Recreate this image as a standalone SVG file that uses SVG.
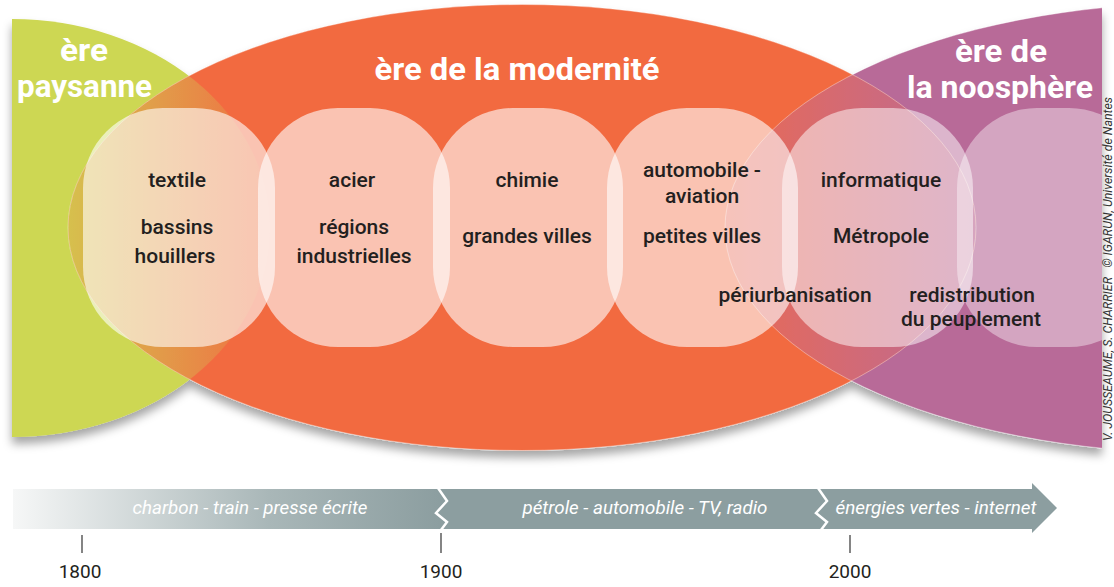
<svg xmlns="http://www.w3.org/2000/svg" width="1114" height="587" viewBox="0 0 1114 587">
<style>
.title{font-family:Roboto,"Liberation Sans",sans-serif;font-weight:700;font-size:32px;fill:#ffffff;text-anchor:middle}
.lbl{font-family:Roboto,"Liberation Sans",sans-serif;font-weight:500;font-size:21px;fill:#231f20;text-anchor:middle}
.band{font-family:Roboto,"Liberation Sans",sans-serif;font-style:italic;font-size:19px;fill:#ffffff;text-anchor:middle}
.year{font-family:Roboto,"Liberation Sans",sans-serif;font-size:19px;fill:#231f20;text-anchor:middle}
.box{fill:#ffffff}
.tick{stroke:#333333;stroke-width:1.2}
.zig{fill:none;stroke:#ffffff;stroke-width:2.5;stroke-linejoin:miter}
.rim{fill:none;stroke:#ffffff;stroke-opacity:0.45;stroke-width:0.8}
</style>
<defs>
<clipPath id="clipFrame"><rect x="12" y="0" width="1090" height="587"/></clipPath>
<clipPath id="clipGreen"><ellipse cx="12" cy="228" rx="258" ry="209"/></clipPath>
<clipPath id="clipPurple"><ellipse cx="1200" cy="228" rx="475" ry="225"/></clipPath>
<linearGradient id="gGO" gradientUnits="userSpaceOnUse" x1="68" y1="0" x2="270" y2="0">
<stop offset="0" stop-color="#d6c04e"/>
<stop offset="1" stop-color="#f06e42"/>
</linearGradient>
<linearGradient id="gOP" gradientUnits="userSpaceOnUse" x1="725" y1="0" x2="976" y2="0">
<stop offset="0" stop-color="#e96a55"/>
<stop offset="1" stop-color="#bc6a95"/>
</linearGradient>
<linearGradient id="gBand" gradientUnits="userSpaceOnUse" x1="13" y1="0" x2="440" y2="0">
<stop offset="0" stop-color="#f6f7f7"/>
<stop offset="0.6" stop-color="#a9b7b8"/>
<stop offset="1" stop-color="#8c9ea0"/>
</linearGradient>
<filter id="shadow" x="-5%" y="-5%" width="110%" height="115%">
<feDropShadow dx="0" dy="7" stdDeviation="5" flood-color="#000000" flood-opacity="0.35"/>
</filter>
</defs>

<g id="eras" filter="url(#shadow)">
<g clip-path="url(#clipFrame)">
<ellipse id="era-paysanne" cx="12" cy="228" rx="258" ry="209" fill="#cdd753"/>
<ellipse id="era-noosphere" cx="1200" cy="228" rx="475" ry="225" fill="#b86a98"/>
<ellipse id="era-modernite" cx="522" cy="227.5" rx="454" ry="223" fill="#f26b41"/>
<g clip-path="url(#clipGreen)"><ellipse cx="522" cy="227.5" rx="454" ry="223" fill="url(#gGO)"/></g>
<g clip-path="url(#clipPurple)"><ellipse cx="522" cy="227.5" rx="454" ry="223" fill="url(#gOP)"/></g>
<ellipse class="rim" cx="522" cy="227.5" rx="454" ry="223"/>
<ellipse class="rim" cx="1200" cy="228" rx="475" ry="225"/>
</g>
</g>

<g id="era-titles">
<text class="title" x="84" y="61" textLength="48" lengthAdjust="spacingAndGlyphs">ère</text>
<text class="title" x="84.5" y="97" textLength="135" lengthAdjust="spacingAndGlyphs">paysanne</text>
<text class="title" x="517" y="80" textLength="285" lengthAdjust="spacingAndGlyphs">ère de la modernité</text>
<text class="title" x="1001" y="62" textLength="92" lengthAdjust="spacingAndGlyphs">ère de</text>
<text class="title" x="1000" y="98" textLength="186" lengthAdjust="spacingAndGlyphs">la noosphère</text>
</g>

<g id="nodes" clip-path="url(#clipFrame)">
<g id="node-1">
<rect class="box" x="83" y="108" width="192" height="239" rx="80" ry="80" fill-opacity="0.6"/>
<text class="lbl" x="177" y="186.5">textile</text>
<text class="lbl" x="177" y="233.5">bassins</text>
<text class="lbl" x="175" y="262.5">houillers</text>
</g>
<g id="node-2">
<rect class="box" x="258" y="108" width="192" height="239" rx="80" ry="80" fill-opacity="0.6"/>
<text class="lbl" x="352" y="186.5">acier</text>
<text class="lbl" x="354" y="233.5">régions</text>
<text class="lbl" x="354" y="262.5">industrielles</text>
</g>
<g id="node-3">
<rect class="box" x="433" y="108" width="190" height="239" rx="80" ry="80" fill-opacity="0.6"/>
<text class="lbl" x="527" y="186.5">chimie</text>
<text class="lbl" x="527" y="242.5">grandes villes</text>
</g>
<g id="node-4">
<rect class="box" x="607" y="108" width="191" height="239" rx="80" ry="80" fill-opacity="0.6"/>
<text class="lbl" x="702" y="177">automobile -</text>
<text class="lbl" x="702" y="203">aviation</text>
<text class="lbl" x="702" y="242.5">petites villes</text>
</g>
<g id="node-5">
<rect class="box" x="782" y="108" width="191" height="239" rx="80" ry="80" fill-opacity="0.5"/>
<text class="lbl" x="881" y="186.5">informatique</text>
<text class="lbl" x="881" y="242.5">Métropole</text>
</g>
<g id="node-6">
<rect class="box" x="957" y="108" width="192" height="239" rx="80" ry="80" fill-opacity="0.4"/>
</g>
<g id="node-shared">
<text class="lbl" x="795" y="302">périurbanisation</text>
<text class="lbl" x="972" y="302">redistribution</text>
<text class="lbl" x="971" y="325.5">du peuplement</text>
</g>
</g>

<g id="connectors">
<polygon points="13,489 1032,489 1032,483 1057,508 1032,533 1032,529 13,529" fill="url(#gBand)"/>
<polyline class="zig" points="438,488 447,501 436,513 447,522 441,530"/>
<polyline class="zig" points="818,488 827,501 816,513 827,522 821,530"/>
<text class="band" x="250" y="514" textLength="235" lengthAdjust="spacingAndGlyphs">charbon - train - presse écrite</text>
<text class="band" x="645" y="514" textLength="245" lengthAdjust="spacingAndGlyphs">pétrole - automobile - TV, radio</text>
<text class="band" x="936" y="514" textLength="201" lengthAdjust="spacingAndGlyphs">énergies vertes - internet</text>
<line class="tick" x1="82" y1="535" x2="82" y2="553"/>
<line class="tick" x1="441" y1="533" x2="441" y2="553"/>
<line class="tick" x1="850" y1="535" x2="850" y2="553"/>
<text class="year" x="80" y="578">1800</text>
<text class="year" x="441" y="578">1900</text>
<text class="year" x="850" y="578">2000</text>
</g>

<g id="credit">
<text transform="translate(1112,441) rotate(-90)" font-family="Roboto,'Liberation Sans',sans-serif" font-style="italic" font-size="13" fill="#333333" textLength="344" lengthAdjust="spacingAndGlyphs" xml:space="preserve">V. JOUSSEAUME, S. CHARRIER   © IGARUN, Université de Nantes</text>
</g>
</svg>
